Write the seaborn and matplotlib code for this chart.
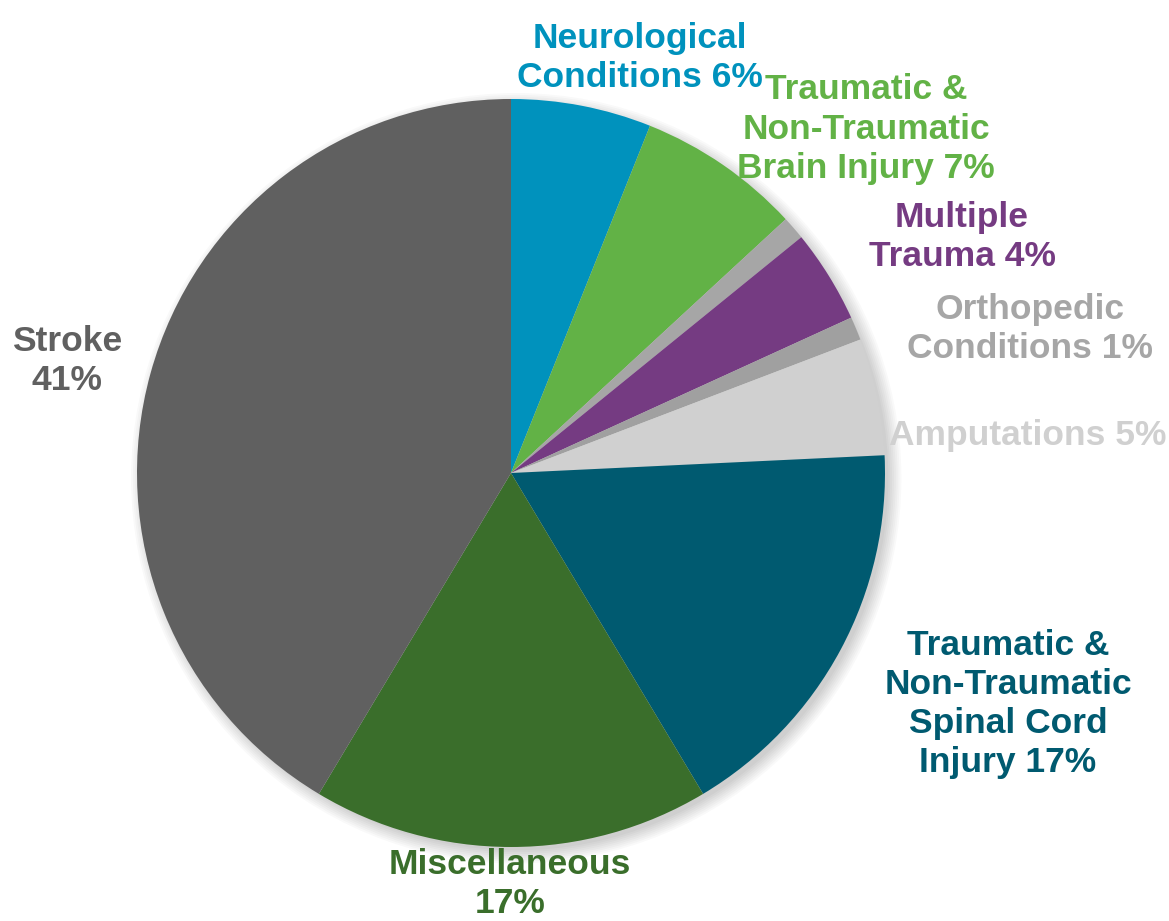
import numpy as np
import seaborn as sns
import matplotlib
matplotlib.use("Agg")
import matplotlib.pyplot as plt
from matplotlib.patches import Circle

# slices, clockwise from 12 o'clock
categories = ["Neurological Conditions", "Traumatic & Non-Traumatic Brain Injury", "Other",
              "Multiple Trauma", "Orthopedic Conditions", "Amputations",
              "Traumatic & Non-Traumatic Spinal Cord Injury", "Miscellaneous", "Stroke"]
values = [6, 7, 1, 4, 1, 5, 17, 17, 41]
slice_colors = ["#0092BD", "#62B246", "#A6A6A6", "#753B82", "#A0A0A0", "#D0D0D0",
                "#005A70", "#3A6E2B", "#606060"]

label_text = ["Neurological\nConditions 6%", "Traumatic &\nNon-Traumatic\nBrain Injury 7%", "",
              "Multiple\nTrauma 4%", "Orthopedic\nConditions 1%", "Amputations 5%",
              "Traumatic &\nNon-Traumatic\nSpinal Cord\nInjury 17%", "Miscellaneous\n17%", "Stroke\n41%"]
label_colors = ["#0092BD", "#62B246", "#A6A6A6", "#753B82", "#A6A6A6", "#D0D0D0",
                "#005A70", "#3A6E2B", "#606060"]
# label centres in pixels of the 1169x921 picture
label_px = [(640, 58), (866, 129), (0, 0), (962, 237), (1030, 329), (1028, 435),
            (1008, 704), (510, 884), (67, 361)]

sns.set_theme(style="white")
plt.rcParams["font.family"] = ["Liberation Sans", "DejaVu Sans"]

W, H = 1169, 921
cx, cy, r = 511, 473, 374
fig = plt.figure(figsize=(W / 100, H / 100), dpi=100)
ax = fig.add_axes([(cx - r) / W, (H - cy - r) / H, 2 * r / W, 2 * r / H])
ax.set_xlim(-1, 1)
ax.set_ylim(-1, 1)
ax.set_aspect("equal")
ax.axis("off")

# soft drop shadow, offset down-right
for k in range(8):
    ax.add_patch(Circle((0.014, -0.014), 0.995 + 0.005 * k, color="black",
                        alpha=0.025, lw=0, zorder=0, clip_on=False))

ax.pie(values, colors=slice_colors, startangle=90, counterclock=False,
       radius=1.0, wedgeprops=dict(linewidth=0, zorder=1))
ax.set_xlim(-1, 1)
ax.set_ylim(-1, 1)

for txt, col, (px, py) in zip(label_text, label_colors, label_px):
    if not txt:
        continue
    ax.text((px - cx) / r, (cy - py) / r, txt, color=col, fontsize=25.5,
            fontweight="bold", ha="center", va="center", linespacing=1.24,
            clip_on=False, zorder=5)

fig.savefig("out.png", dpi=100)
